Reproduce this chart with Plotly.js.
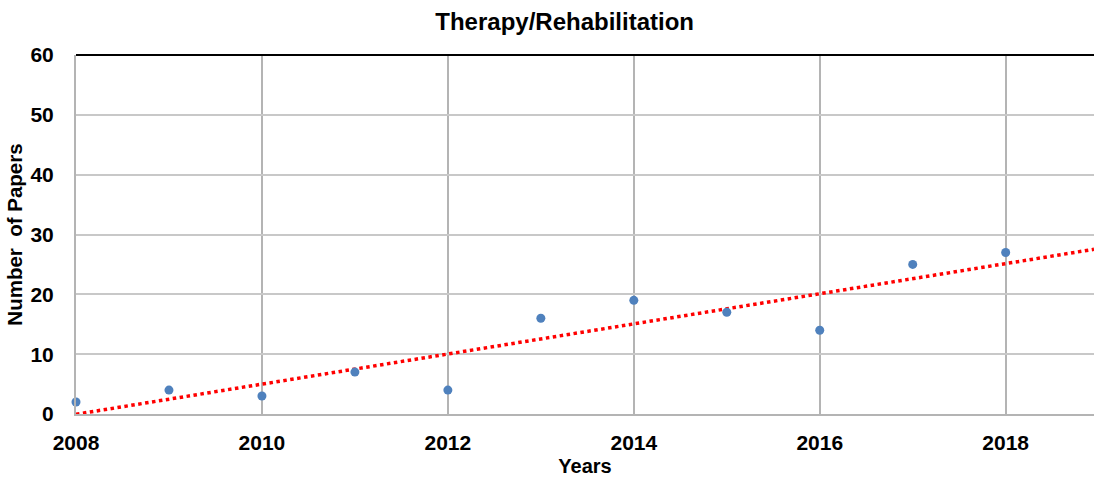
<!DOCTYPE html>
<html>
<head>
<meta charset="utf-8">
<script src="https://cdn.plot.ly/plotly-3.0.1.min.js"></script>
<style>html,body{margin:0;padding:0;background:#fff}#chart{width:1095px;height:477px}</style>
</head>
<body>
<div id="chart"></div>
<script>
const years = [2008, 2009, 2010, 2011, 2012, 2013, 2014, 2015, 2016, 2017, 2018];
const papers = [2, 4, 3, 7, 4, 16, 19, 17, 14, 25, 27];
const xTicks = [2008, 2010, 2012, 2014, 2016, 2018];
const yTicks = [0, 10, 20, 30, 40, 50, 60];
const xRange = [2008, 2018.95];
const yRange = [0, 60];

// least-squares linear trend
const n = years.length;
const mx = years.reduce((a, b) => a + b, 0) / n;
const my = papers.reduce((a, b) => a + b, 0) / n;
let sxy = 0, sxx = 0;
for (let i = 0; i < n; i++) { sxy += (years[i] - mx) * (papers[i] - my); sxx += (years[i] - mx) ** 2; }
const slope = sxy / sxx;
const intercept = my - slope * mx;
const trendX = xRange.slice();
const trendY = trendX.map(x => intercept + slope * x);

const fam = 'Liberation Sans, Arial, sans-serif';
const font = {family: fam, size: 20, color: '#000'};
const tickFont = {family: fam, size: 21, color: '#000'};

const data = [
  {x: trendX, y: trendY, type: 'scatter', mode: 'lines',
   line: {color: '#ff0000', width: 3.5, dash: 'dot'}, hoverinfo: 'skip', cliponaxis: true},
  {x: years, y: papers, type: 'scatter', mode: 'markers',
   marker: {color: '#4f81bd', size: 9}, cliponaxis: false}
];

const layout = {
  width: 1095, height: 477,
  margin: {l: 76, r: 1, t: 55, b: 63},
  paper_bgcolor: '#fff', plot_bgcolor: '#fff',
  showlegend: false,
  font: font,
  title: {text: '<b>Therapy/Rehabilitation</b>', font: {family: fam, size: 24, color: '#000'},
          x: 0.48, xref: 'paper', xanchor: 'center', y: 0.955, yanchor: 'middle'},
  xaxis: {
    range: xRange, tickvals: xTicks, ticktext: xTicks.map(v => '<b>' + v + '</b>'),
    showgrid: true, gridcolor: '#b4b4b4', gridwidth: 2,
    zeroline: false, showline: true, linecolor: '#b4b4b4', linewidth: 2,
    ticks: '', ticklabelstandoff: 9, tickfont: tickFont,
    title: {text: '<b>Years</b>', font: font, standoff: 6}
  },
  yaxis: {
    range: yRange, tickvals: yTicks, ticktext: yTicks.map(v => '<b>' + v + '</b>'),
    showgrid: true, gridcolor: '#c8c8c8', gridwidth: 2,
    zeroline: false, showline: true, linecolor: '#b4b4b4', linewidth: 2,
    ticks: '', ticklabelstandoff: 16, tickfont: tickFont,
    title: {text: '<b>Number  of Papers</b>', font: {family: fam, size: 20.5, color: '#000'}, standoff: 2}
  },
  shapes: [
    {type: 'line', xref: 'paper', yref: 'paper', x0: 0, x1: 1, y0: 1, y1: 1,
     line: {color: '#000', width: 2}}
  ]
};

Plotly.newPlot('chart', data, layout, {displayModeBar: false, staticPlot: true});
</script>
</body>
</html>
